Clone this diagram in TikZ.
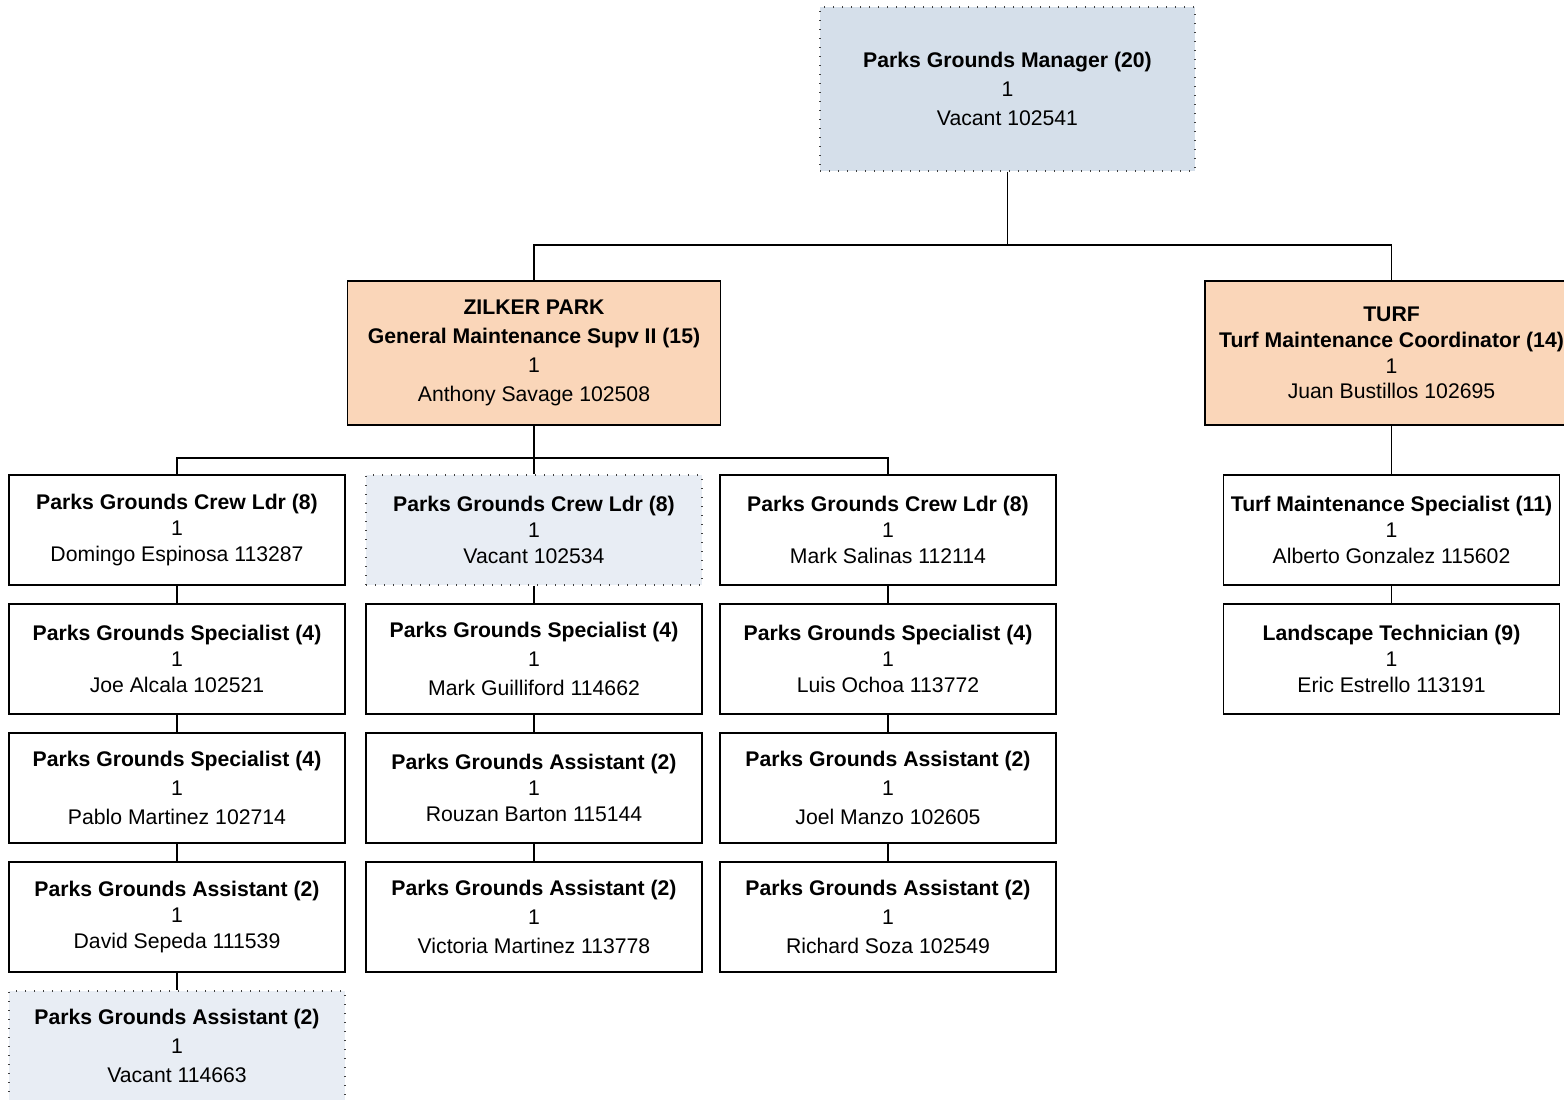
\documentclass[tikz,border=0pt]{standalone}
\usepackage{fontspec}
\setmainfont{Liberation Sans}
\definecolor{mgrblue}{HTML}{D5DFEA}
\definecolor{vacblue}{HTML}{E8EDF4}
\definecolor{peach}{HTML}{FAD6B9}
\tikzset{
  posbox/.style={shape=rectangle, draw=black, line width=0.75pt, minimum width=168pt,
    minimum height=55pt, inner sep=0pt, align=center, font=\fontsize{10.6}{12.8}\selectfont},
  spaced/.style={font=\fontsize{10.6}{14.5}\selectfont},
  vacbox/.style={posbox, fill=vacblue, draw=black!75, line width=0.6pt, dash pattern=on 0.6pt off 3.9pt},
  leadbox/.style={posbox, fill=peach, minimum width=186.5pt, minimum height=72pt},
  mgrbox/.style={vacbox, fill=mgrblue, minimum width=187.5pt, minimum height=82pt, spaced},
  conn/.style={draw=black, line width=0.65pt}
}
\begin{document}
\begin{tikzpicture}[x=0.5pt, y=-0.5pt]
\useasboundingbox (0,0) rectangle (1564,1099);
\node[mgrbox] (mgr) at (1007.5,89) {\textbf{Parks Grounds Manager (20)}\\1\\Vacant 102541};
\node[leadbox, spaced] (zilker) at (534,353) {\textbf{ZILKER PARK}\\\textbf{General Maintenance Supv II (15)}\\1\\Anthony Savage 102508};
\node[leadbox] (turf) at (1391.5,353) {\textbf{TURF}\\\textbf{Turf Maintenance Coordinator (14)}\\1\\Juan Bustillos 102695};
% zilker park
\node[posbox] (crew1) at (177,530) {\textbf{Parks Grounds Crew Ldr (8)}\\1\\Domingo Espinosa 113287};
\node[posbox] (spec1a) at (177,659) {\textbf{Parks Grounds Specialist (4)}\\1\\Joe Alcala 102521};
\node[posbox, spaced] (spec1b) at (177,788) {\textbf{Parks Grounds Specialist (4)}\\1\\Pablo Martinez 102714};
\node[posbox] (asst1a) at (177,917) {\textbf{Parks Grounds Assistant (2)}\\1\\David Sepeda 111539};
\node[vacbox, spaced] (asst1b) at (177,1046) {\textbf{Parks Grounds Assistant (2)}\\1\\Vacant 114663};
\node[vacbox] (crew2) at (534,530) {\textbf{Parks Grounds Crew Ldr (8)}\\1\\Vacant 102534};
\node[posbox, spaced] (spec2) at (534,659) {\textbf{Parks Grounds Specialist (4)}\\1\\Mark Guilliford 114662};
\node[posbox] (asst2a) at (534,788) {\textbf{Parks Grounds Assistant (2)}\\1\\Rouzan Barton 115144};
\node[posbox, spaced] (asst2b) at (534,917) {\textbf{Parks Grounds Assistant (2)}\\1\\Victoria Martinez 113778};
\node[posbox] (crew3) at (888,530) {\textbf{Parks Grounds Crew Ldr (8)}\\1\\Mark Salinas 112114};
\node[posbox] (spec3) at (888,659) {\textbf{Parks Grounds Specialist (4)}\\1\\Luis Ochoa 113772};
\node[posbox, spaced] (asst3a) at (888,788) {\textbf{Parks Grounds Assistant (2)}\\1\\Joel Manzo 102605};
\node[posbox, spaced] (asst3b) at (888,917) {\textbf{Parks Grounds Assistant (2)}\\1\\Richard Soza 102549};
% turf
\node[posbox] (tspec) at (1391.5,530) {\textbf{Turf Maintenance Specialist (11)}\\1\\Alberto Gonzalez 115602};
\node[posbox] (ltech) at (1391.5,659) {\textbf{Landscape Technician (9)}\\1\\Eric Estrello 113191};
% connectors
\draw[conn] (mgr.south) -- (mgr.south |- 0,245) -| (zilker.north);
\draw[conn] (mgr.south |- 0,245) -| (turf.north);
\draw[conn] (zilker.south) -- (zilker.south |- 0,458) -| (crew1.north);
\draw[conn] (zilker.south |- 0,458) -| (crew3.north);
\path[conn] (zilker) edge (crew2);
\path[conn] (crew1) edge (spec1a);
\path[conn] (spec1a) edge (spec1b);
\path[conn] (spec1b) edge (asst1a);
\path[conn] (asst1a) edge (asst1b);
\path[conn] (crew2) edge (spec2);
\path[conn] (spec2) edge (asst2a);
\path[conn] (asst2a) edge (asst2b);
\path[conn] (crew3) edge (spec3);
\path[conn] (spec3) edge (asst3a);
\path[conn] (asst3a) edge (asst3b);
\path[conn] (turf) edge (tspec);
\path[conn] (tspec) edge (ltech);
\end{tikzpicture}
\end{document}
